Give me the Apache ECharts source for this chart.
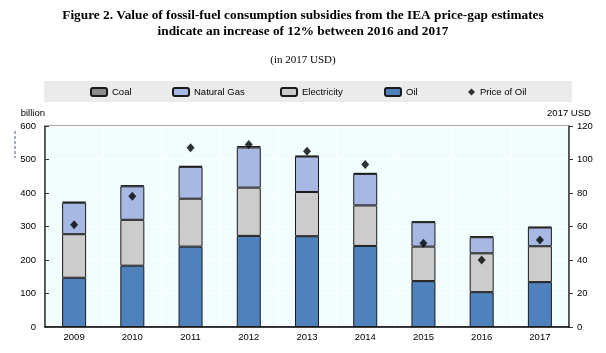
<!DOCTYPE html>
<html>
<head>
<meta charset="utf-8">
<script src="https://cdn.jsdelivr.net/npm/echarts@6/dist/echarts.min.js"></script>
<style>
  html, body { margin: 0; padding: 0; background: #fff; }
  #chart { width: 606px; height: 353px; }
</style>
</head>
<body>
<div id="chart"></div>
<script>
// data (billion 2017 USD, price in 2017 USD)
const years = ['2009', '2010', '2011', '2012', '2013', '2014', '2015', '2016', '2017']
const oil = [147, 183, 240, 272, 271, 242, 137, 104, 134]
const electricity = [130, 137, 143, 144, 132, 121, 103, 116, 107]
const naturalGas = [94, 100, 95, 120, 106, 94, 73, 48, 56]
const coal = [3, 3, 3, 4, 2, 3, 2, 3, 2]
const priceOfOil = [61, 78, 107, 109, 105, 97, 50, 40, 52]
const leftTicks = { min: 0, max: 600, interval: 100 }
const rightTicks = { min: 0, max: 120, interval: 20 }

// no Arial Narrow in the sandbox, so a plain sans a touch smaller
const sans = "'Liberation Sans', Arial, sans-serif"
const serif = "'Liberation Serif', 'Times New Roman', serif"
const labelSize = 9.5

const chart = echarts.init(document.getElementById('chart'))

const barSeries = (name, data, color) => ({
  name,
  type: 'bar',
  stack: 'total',
  data,
  barWidth: 24,
  itemStyle: {
    color,
    borderColor: '#1a1a1a',
    borderWidth: 1
  },
  emphasis: { disabled: true }
})

const legendItem = (name, left, opts) => Object.assign({
  data: [name],
  left,
  top: 87,
  padding: 0,
  itemWidth: 16,
  itemHeight: 8,
  itemGap: 0,
  selectedMode: false,
  icon: 'roundRect',
  textStyle: { fontFamily: sans, fontSize: labelSize, color: '#000' }
}, opts || {})

const option = {
  backgroundColor: '#fff',
  animation: false,
  title: [
    {
      text: 'Figure 2. Value of fossil-fuel consumption subsidies from the IEA price-gap estimates\nindicate an increase of 12% between 2016 and 2017',
      left: 'center',
      top: 8,
      padding: 0,
      textStyle: {
        fontFamily: serif,
        fontWeight: 'bold',
        fontSize: 13.3,
        lineHeight: 16,
        color: '#000',
        align: 'center'
      }
    },
    {
      text: '(in 2017 USD)',
      left: 'center',
      top: 55,
      padding: 0,
      textStyle: {
        fontFamily: serif,
        fontWeight: 'normal',
        fontSize: 11,
        color: '#000'
      }
    }
  ],
  // grey strip behind the legend + stray dashed mark on the left
  graphic: [
    {
      type: 'rect',
      z: -1,
      shape: { x: 44, y: 81, width: 528, height: 21 },
      style: { fill: '#ebebeb' }
    },
    {
      type: 'line',
      shape: { x1: 15, y1: 131, x2: 15, y2: 158 },
      style: { stroke: '#4b5b86', lineWidth: 1, lineDash: [3, 2] }
    }
  ],
  legend: [
    legendItem('Coal', 90),
    legendItem('Natural Gas', 172),
    legendItem('Electricity', 280),
    legendItem('Oil', 384),
    legendItem('Price of Oil', 468, { icon: 'diamond', itemWidth: 7, itemHeight: 7 })
  ],
  grid: {
    left: 45,
    right: 37,
    top: 126,
    bottom: 26,
    show: true,
    backgroundColor: '#f2fefe',
    borderColor: '#555',
    borderWidth: 1
  },
  xAxis: {
    type: 'category',
    data: years,
    boundaryGap: true,
    axisLine: { lineStyle: { color: '#000', width: 1.5 } },
    axisTick: { inside: true, length: 3, lineStyle: { color: '#777' } },
    axisLabel: { fontFamily: sans, fontSize: labelSize, color: '#000', margin: 5 },
    splitLine: { show: true, lineStyle: { color: '#ffffff', width: 1 } }
  },
  yAxis: [
    {
      type: 'value',
      min: leftTicks.min,
      max: leftTicks.max,
      interval: leftTicks.interval,
      name: 'billion',
      nameLocation: 'end',
      nameGap: 8,
      nameTextStyle: { fontFamily: sans, fontSize: labelSize, color: '#000', align: 'right' },
      axisLine: { show: true, lineStyle: { color: '#333', width: 1.5 } },
      axisTick: { show: true, inside: true, length: 4, lineStyle: { color: '#333' } },
      axisLabel: { fontFamily: sans, fontSize: labelSize, color: '#000', margin: 9 },
      splitLine: { show: true, lineStyle: { color: '#ffffff', width: 1 } }
    },
    {
      type: 'value',
      min: rightTicks.min,
      max: rightTicks.max,
      interval: rightTicks.interval,
      position: 'right',
      name: '2017 USD',
      nameLocation: 'end',
      nameGap: 8,
      nameTextStyle: { fontFamily: sans, fontSize: labelSize, color: '#000' },
      axisLine: { show: true, lineStyle: { color: '#333', width: 1.5 } },
      axisTick: { show: true, inside: false, length: 4, lineStyle: { color: '#333' } },
      axisLabel: { fontFamily: sans, fontSize: labelSize, color: '#000', margin: 8 },
      splitLine: { show: false }
    }
  ],
  series: [
    barSeries('Oil', oil, '#4f81bd'),
    barSeries('Electricity', electricity, '#cccccc'),
    barSeries('Natural Gas', naturalGas, '#a7b9e3'),
    barSeries('Coal', coal, '#8c8c8c'),
    {
      name: 'Price of Oil',
      type: 'scatter',
      yAxisIndex: 1,
      data: priceOfOil,
      symbol: 'diamond',
      symbolSize: [8, 9],
      itemStyle: { color: '#000' },
      z: 5,
      emphasis: { disabled: true }
    }
  ]
}

chart.setOption(option)
</script>
</body>
</html>
